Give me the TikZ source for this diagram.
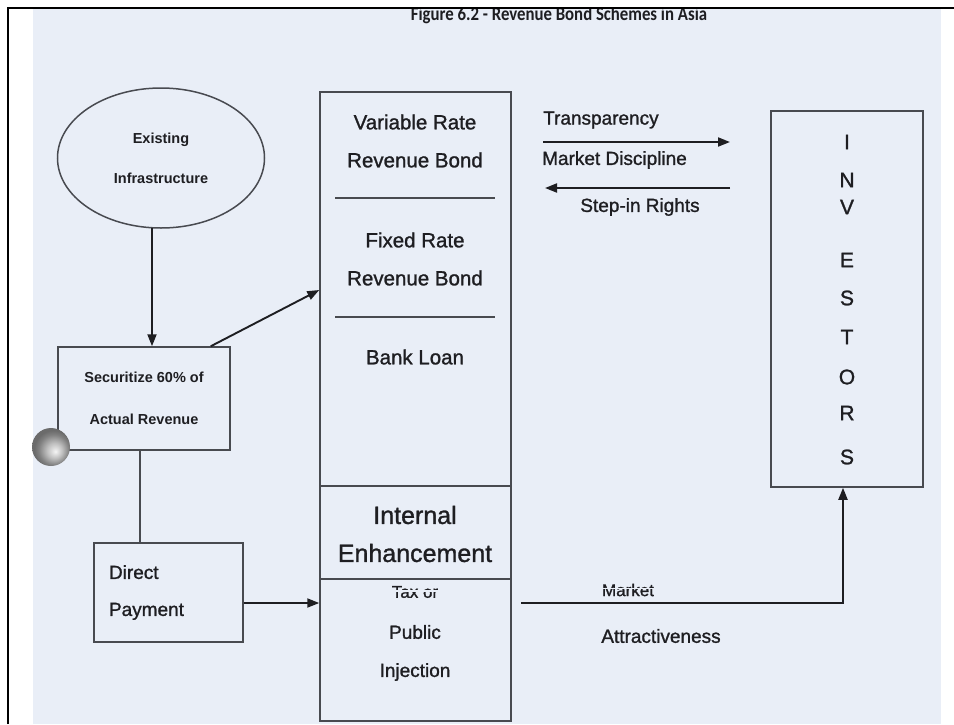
\documentclass[tikz,border=0pt]{standalone}
\usepackage{fontspec}
\setmainfont{Liberation Sans}
\newfontfamily\scanfont{Liberation Sans}[FakeBold=1.2]
\newfontfamily\titlefont{Carlito}
\usetikzlibrary{shapes.geometric,arrows.meta}

\definecolor{pagebg}{RGB}{233,238,247}
\definecolor{ink}{RGB}{30,30,34}
\definecolor{rule}{RGB}{72,74,80}

% grey bead with its highlight towards the lower right
\pgfdeclareradialshading{bead}{\pgfpoint{6bp}{-6bp}}{%
  color(0bp)=(white!92!gray); color(10bp)=(gray!50!white);
  color(20bp)=(black!50); color(25bp)=(black!58); color(50bp)=(black!58)}

\begin{document}
\begin{tikzpicture}[x=1pt,y=-1pt,
  box/.style={draw=rule, line width=1.5pt},
  divider/.style={draw=rule, line width=1.5pt},
  flow/.style={draw=ink, line width=1.9pt, -{Triangle[length=12pt,width=9pt]}},
  plain/.style={draw=rule, line width=1.5pt},
  lbl/.style={text=ink, inner sep=0pt, font=\scanfont\fontsize{19}{19}\selectfont},
  biglbl/.style={text=ink, inner sep=0pt, font=\scanfont\fontsize{20.5}{20.5}\selectfont},
  hugelbl/.style={text=ink, inner sep=0pt, font=\scanfont\fontsize{25}{25}\selectfont},
  smalllbl/.style={text=ink, inner sep=0pt, font=\scanfont\fontsize{17}{17}\selectfont},
  letter/.style={text=ink, inner sep=0pt, font=\scanfont\fontsize{21}{21}\selectfont}]

\useasboundingbox (0,0) rectangle (954,724);
\fill[white] (0,0) rectangle (954,724);
\fill[pagebg] (33,9) rectangle (941,724);

% caption, trimmed by the frame line
\begin{scope}
  \clip (0,9) rectangle (954,40);
  \node[text=ink, inner sep=0pt, anchor=base, xscale=0.86,
        font=\titlefont\bfseries\fontsize{19.5}{19.5}\selectfont] (title) at (559,20)
        {Figure 6.2 - Revenue Bond Schemes in Asia};
\end{scope}
\draw[black, line width=2.6pt] (8,724) -- (8,8) -- (954,8);

% existing infrastructure
\node[box, ellipse, minimum width=207pt, minimum height=140pt, inner sep=0pt,
      align=center, text=ink, font=\bfseries\fontsize{14.5}{40}\selectfont] (infra) at (161,158)
      {Existing\\Infrastructure};

% securitisation box
\node[box, minimum width=172pt, minimum height=103pt, inner sep=0pt,
      align=center, text=ink, font=\bfseries\fontsize{14.5}{42}\selectfont] (sec) at (144,398.5)
      {Securitize 60\% of\\Actual Revenue};

% direct payment box
\node[box, text width=119pt, inner sep=15pt, minimum height=99pt, align=left,
      text=ink, font=\scanfont\fontsize{19}{37}\selectfont] (direct) at (168.5,592.5)
      {Direct\\Payment};

% funding column
\node[box, minimum width=191pt, minimum height=629pt, inner sep=0pt] (col) at (415.5,406.5) {};
\draw[divider] (335,198) -- (495,198);
\draw[divider] (335,317) -- (495,317);
\draw[divider] (col.west |- 0,486) -- (col.east |- 0,486);
\draw[divider, line width=2pt] (col.west |- 0,579) -- (col.east |- 0,579);

\node[biglbl] (vr1) at (415,122) {Variable Rate};
\node[biglbl] (vr2) at (415,160) {Revenue Bond};
\node[biglbl] (fr1) at (415,240) {Fixed Rate};
\node[biglbl] (fr2) at (415,278) {Revenue Bond};
\node[biglbl] (bank) at (415,357) {Bank Loan};
\node[hugelbl] (ie1) at (415,515) {Internal};
\node[hugelbl] (ie2) at (415,553) {Enhancement};
\node[smalllbl] (tax) at (415,592) {Tax or};
\node[lbl] (pub) at (415,632) {Public};
\node[lbl] (inj) at (415,672) {Injection};

% investors
\node[box, minimum width=152pt, minimum height=376pt, inner sep=0pt] (inv) at (847,299) {};
\node[letter] (i1) at (847,142) {I};
\node[letter] (i2) at (847,180) {N};
\node[letter] (i3) at (847,207) {V};
\node[letter] (i4) at (847,260) {E};
\node[letter] (i5) at (847,298) {S};
\node[letter] (i6) at (847,337) {T};
\node[letter] (i7) at (847,377) {O};
\node[letter] (i8) at (847,413) {R};
\node[letter] (i9) at (847,457) {S};

% flows between the column and the investors
\coordinate (trA) at (543,142);
\coordinate (trB) at (730,142);
\coordinate (stA) at (730,188);
\coordinate (stB) at (545,188);
\draw[flow] (trA) -- (trB);
\draw[flow] (stA) -- (stB);
\node[lbl, anchor=west] (transp) at (543,120) {Transparency};
\node[lbl, anchor=west] (disc) at (542,160) {Market Discipline};
\node[lbl] (step) at (640,207) {Step-in Rights};

\coordinate (mkA) at (521,603);
\draw[flow] (mkA) -| ([xshift=-4pt]inv.south);
\node[smalllbl] (mk1) at (628,590) {Market};
\node[lbl] (mk2) at (661,636) {Attractiveness};

% worn strip across the small labels
\fill[pagebg] ([yshift=-1pt]tax.north west) ++(0,3.2) rectangle ++(60,1.6);
\fill[pagebg] ([yshift=-1pt]mk1.north west) ++(0,3.2) rectangle ++(62,1.6);

% flows on the left
\coordinate (infraFoot) at (152,228);
\draw[flow] (infraFoot) -- (infraFoot |- sec.north);
\draw[flow] ([xshift=-20pt]sec.north east) -- (col.west |- 0,290);
\draw[plain] (sec.south -| 140,0) -- (direct.north -| 140,0);
\draw[flow] (direct.east |- 0,603) -- (col.west |- 0,603);

% binder bead
\shade[shading=bead] (51,447) circle (19);
\end{tikzpicture}
\end{document}
